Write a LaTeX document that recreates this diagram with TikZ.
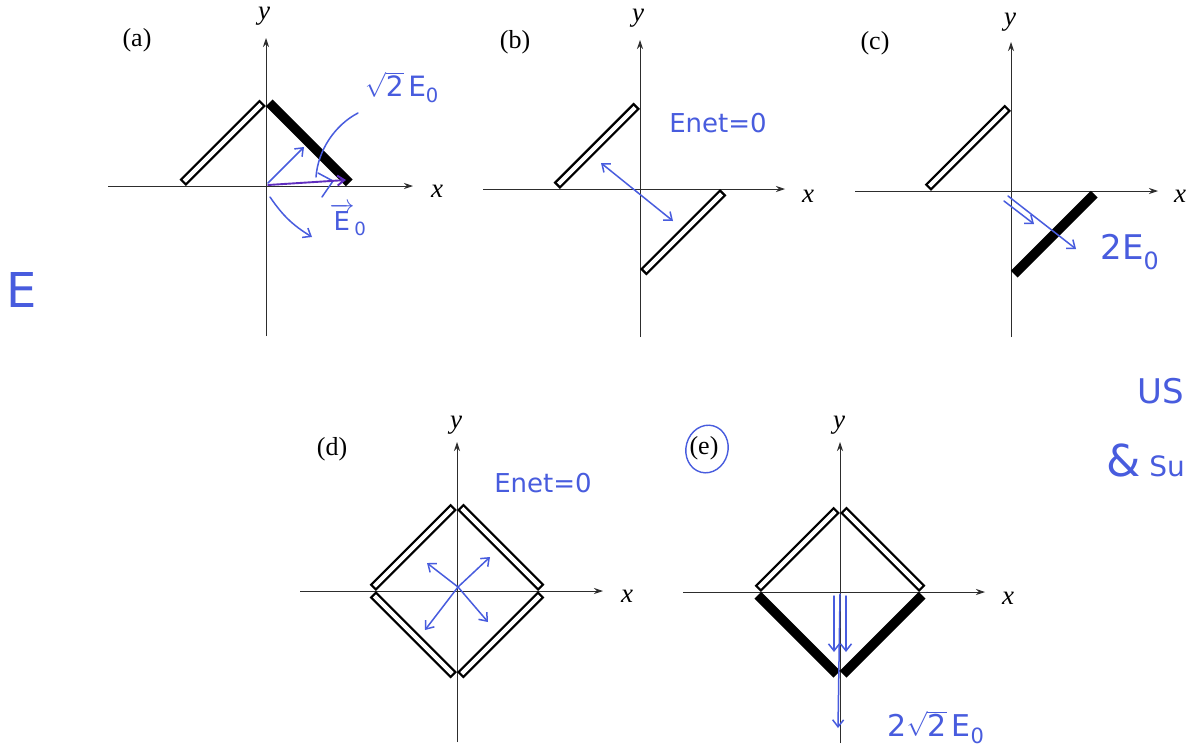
\documentclass[tikz,border=0pt]{standalone}
\usepackage{fontspec}
\setmainfont{Liberation Serif}
\newfontfamily\hand{DejaVu Sans}
\usetikzlibrary{arrows.meta,shapes.geometric}
\definecolor{ink}{RGB}{72,92,222}
\definecolor{purp}{RGB}{95,45,190}
\definecolor{axisc}{RGB}{45,45,45}
\newcommand\hplate[2]{\draw[line width=9pt,black] #1 -- #2; \draw[white,line width=4.4pt,shorten <=2.3pt,shorten >=2.3pt] #1 -- #2;}
\newcommand\bplate[2]{\draw[line width=9.5pt,black] #1 -- #2;}
\begin{document}
\begin{tikzpicture}[x=1pt,y=-1pt,
  ax/.style={axisc, line width=0.9pt, -{Stealth[length=9pt,width=6pt]}},
  lbl/.style={font=\fontsize{26}{28}\selectfont, inner sep=0pt},
  axlbl/.style={font=\fontsize{27}{29}\selectfont\itshape, inner sep=0pt},
  pen/.style={ink, line width=1.5pt, line cap=round, line join=round},
  penarrow/.style={pen, -{Straight Barb[length=7pt,width=11pt]}},
  hw/.style={ink, font=\hand\fontsize{26}{28}\selectfont, inner sep=0pt},
]
\useasboundingbox (0,0) rectangle (1186,748);
\fill[white] (0,0) rectangle (1186,748);
\clip (0,0) rectangle (1186,748);

% ---------- panel (a)
\begin{scope}[shift={(266,186)}]
  \coordinate (aO) at (0,0);
  \draw[ax] (-158,0) -- (147,0);
  \draw[ax] (0,150) -- (0,-148);
  \node[axlbl] (ay) at (-2,-170) {y};
  \node[axlbl] (ax) at (171,5) {x};
  \hplate{(-83.2,-3.2)}{(-3.2,-83.2)}
  \bplate{(3.2,-83.2)}{(83.2,-3.2)}
\end{scope}
\node[lbl] (la) at (137,40) {(a)};

% ---------- panel (b)
\begin{scope}[shift={(640,189)}]
  \draw[ax] (-157,0) -- (145,0);
  \draw[ax] (0,148) -- (0,-149);
  \node[axlbl] (by) at (-2,-171) {y};
  \node[axlbl] (bx) at (168,7) {x};
  \hplate{(-83.2,-3.2)}{(-3.2,-83.2)}
  \hplate{(83.2,3.2)}{(3.2,83.2)}
\end{scope}
\node[lbl] (lb) at (515,42) {(b)};

% ---------- panel (c)
\begin{scope}[shift={(1011,191)}]
  \draw[ax] (-156,0) -- (147,0);
  \draw[ax] (0,146) -- (0,-149);
  \node[axlbl] (cy) at (-1,-169) {y};
  \node[axlbl] (cx) at (169,5) {x};
  \hplate{(-83.2,-3.2)}{(-3.2,-83.2)}
  \bplate{(83.2,3.2)}{(3.2,83.2)}
\end{scope}
\node[lbl] (lc) at (875,43) {(c)};

% ---------- panel (d)
\begin{scope}[shift={(457,591)}]
  \draw[ax] (-157,0) -- (146,0);
  \draw[ax] (0,151) -- (0,-149);
  \node[axlbl] (dy) at (-1,-166) {y};
  \node[axlbl] (dx) at (170,5) {x};
  \hplate{(-84.2,-3.2)}{(-3.2,-84.2)}
  \hplate{(3.2,-84.2)}{(84.2,-3.2)}
  \hplate{(84.2,3.2)}{(3.2,84.2)}
  \hplate{(-3.2,84.2)}{(-84.2,3.2)}
\end{scope}
\node[lbl] (ld) at (332,449) {(d)};

% ---------- panel (e)
\begin{scope}[shift={(840,592)}]
  \draw[ax] (-157,0) -- (145,0);
  \draw[ax] (0,151) -- (0,-150);
  \node[axlbl] (ey) at (-1,-167) {y};
  \node[axlbl] (ex) at (168,6) {x};
  \hplate{(-82.2,-3.2)}{(-3.2,-82.2)}
  \hplate{(3.2,-82.2)}{(82.2,-3.2)}
  \bplate{(82.2,3.2)}{(3.2,82.2)}
  \bplate{(-3.2,82.2)}{(-82.2,3.2)}
\end{scope}
\node[lbl] (le) at (704,448) {(e)};

% ---------- handwritten annotations
% (a)
\coordinate (a1s) at (268,183); \coordinate (a1e) at (304,147);
\draw[penarrow] (a1s) -- (a1e);
\draw[pen] (318,173) -- (333,181) -- (322,197);
\coordinate (a2s) at (268,185); \coordinate (a2e) at (346,180);
\draw[pen, purp, line width=1.9pt, -{Straight Barb[length=7pt,width=10pt]}] (a2s) -- (a2e);
\coordinate (a3s) at (270,197); \coordinate (a3e) at (312,237);
\draw[penarrow] (a3s) to[bend right=12] (a3e);
\coordinate (p1) at (358,113); \coordinate (p2) at (316,177);
\draw[pen] (p1) .. controls (335,125) and (318,150) .. (p2);
\node[hw, font=\hand\fontsize{28}{30}\selectfont] (ta) at (402,87) {$\sqrt{\mbox{2}}$\,E\textsubscript{0}};
\node[hw] (tb) at (348,220) {$\overrightarrow{\mbox{E}}$\textsubscript{0}};

% (b)
\coordinate (b1) at (601,163); \coordinate (b2) at (673,221);
\draw[pen, {Straight Barb[length=7pt,width=11pt]}-{Straight Barb[length=7pt,width=11pt]}] (b1) -- (b2);
\node[hw] (tEb) at (718,123) {Enet=0};

% (c)
\coordinate (c1) at (1008,196); \coordinate (c2) at (1076,249);
\draw[penarrow] (c1) -- (c2);
\coordinate (c3) at (1004,201); \coordinate (c4) at (1034,224);
\draw[penarrow] (c3) -- (c4);
\node[hw, font=\hand\fontsize{34}{36}\selectfont] (tc) at (1130,252) {2E\textsubscript{0}};

% (d)
\coordinate (dc) at (458,587);
\coordinate (d1) at (427,563); \coordinate (d2) at (490,557);
\coordinate (d3) at (425,630); \coordinate (d4) at (488,622);
\foreach \t in {d1,d2,d3,d4} \draw[penarrow] (dc) -- (\t);
\node[hw] (td) at (543,483) {Enet=0};

% (e)
\node[draw=ink, line width=1.4pt, ellipse, minimum width=42pt, minimum height=48pt, rotate=-15] (circ) at (707,449) {};
\coordinate (e1) at (840,594); \coordinate (e2) at (838,728);
\draw[penarrow] (e1) -- (e2);
\coordinate (e3) at (834,596); \coordinate (e4) at (834,652);
\coordinate (e5) at (846,596); \coordinate (e6) at (846,652);
\draw[penarrow] (e3) -- (e4);
\draw[penarrow] (e5) -- (e6);
\node[hw, font=\hand\fontsize{30}{32}\selectfont] (te) at (936,727) {2$\sqrt{\mbox{2}}$\,E\textsubscript{0}};

% margins
\node[hw, font=\hand\fontsize{48}{50}\selectfont] (tE) at (22,290) {E};
\node[hw, anchor=west, font=\hand\fontsize{34}{36}\selectfont] (tus) at (1137,391) {US};
\node[hw, font=\hand\fontsize{44}{46}\selectfont] (amp) at (1124,460) {\&};
\node[hw, anchor=east, font=\hand\fontsize{28}{30}\selectfont] (tsu) at (1185,466) {Su};
\end{tikzpicture}
\end{document}
